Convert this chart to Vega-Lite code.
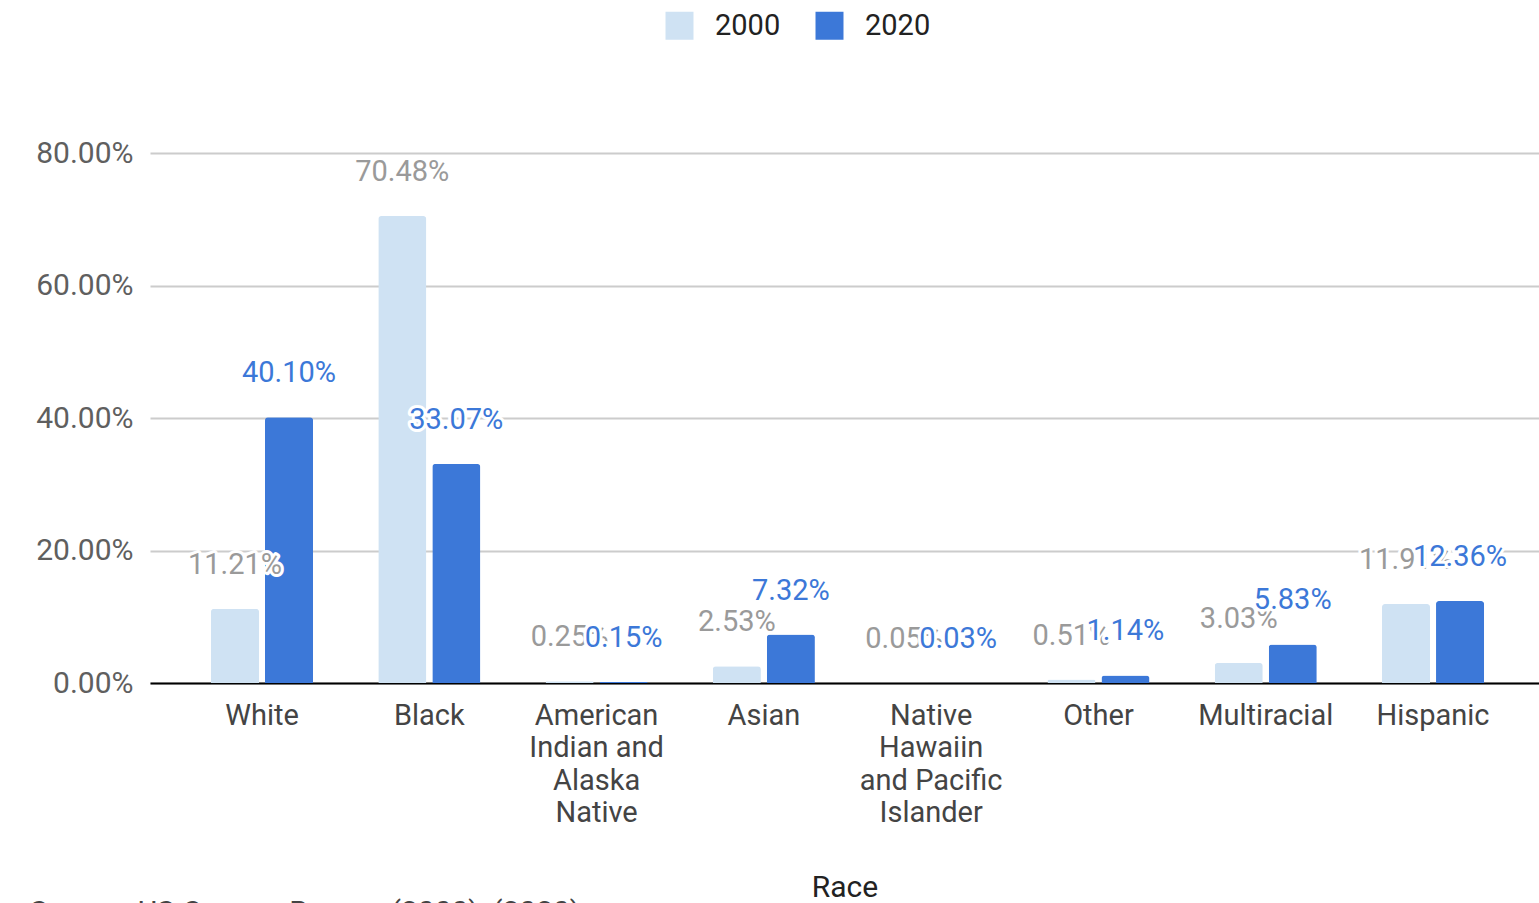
{
  "$schema": "https://vega.github.io/schema/vega-lite/v6.json",
  "width": 1389,
  "height": 530,
  "autosize": {"type": "none"},
  "padding": {"left": 150, "top": 153, "right": 0, "bottom": 220},
  "background": "white",
  "config": {
    "font": "Roboto",
    "view": {"stroke": null}
  },
  "title": {
    "text": "Source: US Census Bureau (2000), (2020)",
    "orient": "bottom",
    "anchor": "start",
    "frame": "group",
    "dx": -120,
    "offset": -4,
    "fontSize": 30,
    "fontWeight": "normal",
    "color": "#444444",
    "font": "Roboto"
  },
  "data": {
    "values": [
      {"race": "White", "year": "2000", "value": 0.1121},
      {"race": "White", "year": "2020", "value": 0.4010},
      {"race": "Black", "year": "2000", "value": 0.7048},
      {"race": "Black", "year": "2020", "value": 0.3307},
      {"race": "American Indian and Alaska Native", "year": "2000", "value": 0.0025},
      {"race": "American Indian and Alaska Native", "year": "2020", "value": 0.0015},
      {"race": "Asian", "year": "2000", "value": 0.0253},
      {"race": "Asian", "year": "2020", "value": 0.0732},
      {"race": "Native Hawaiin and Pacific Islander", "year": "2000", "value": 0.0005},
      {"race": "Native Hawaiin and Pacific Islander", "year": "2020", "value": 0.0003},
      {"race": "Other", "year": "2000", "value": 0.0051},
      {"race": "Other", "year": "2020", "value": 0.0114},
      {"race": "Multiracial", "year": "2000", "value": 0.0303},
      {"race": "Multiracial", "year": "2020", "value": 0.0583},
      {"race": "Hispanic", "year": "2000", "value": 0.1191},
      {"race": "Hispanic", "year": "2020", "value": 0.1236}
    ]
  },
  "encoding": {
    "x": {
      "field": "race",
      "type": "nominal",
      "sort": null,
      "scale": {"paddingInner": 0.39, "paddingOuter": 0.3465, "align": 0.526},
      "axis": {
        "title": "Race",
        "titleFont": "Roboto",
        "titleFontSize": 30,
        "titleFontWeight": "normal",
        "titleColor": "#222222",
        "titleBaseline": "alphabetic",
        "titleY": 213,
        "labelAngle": 0,
        "labelFont": "Roboto",
        "labelFontSize": 29,
        "labelColor": "#444444",
        "labelPadding": 18,
        "labelLineHeight": 32.5,
        "labelExpr": "datum.label == 'American Indian and Alaska Native' ? ['American','Indian and','Alaska','Native'] : datum.label == 'Native Hawaiin and Pacific Islander' ? ['Native','Hawaiin','and Pacific','Islander'] : datum.label",
        "ticks": false,
        "domain": true,
        "domainColor": "#000000",
        "domainWidth": 2,
        "grid": false,
        "zindex": 0
      }
    },
    "xOffset": {
      "field": "year",
      "type": "nominal",
      "scale": {"paddingInner": 0.111, "paddingOuter": 0}
    },
    "y": {
      "field": "value",
      "type": "quantitative",
      "scale": {"domain": [0, 0.8], "nice": false},
      "axis": {
        "title": null,
        "values": [0, 0.2, 0.4, 0.6, 0.8],
        "format": ".2%",
        "labelFont": "Roboto",
        "labelFontSize": 30,
        "labelColor": "#5f5f5f",
        "labelPadding": 17,
        "ticks": false,
        "domain": false,
        "grid": true,
        "gridColor": "#cccccc",
        "gridWidth": 2,
        "zindex": 0
      }
    }
  },
  "layer": [
    {
      "mark": {"type": "bar", "cornerRadiusTopLeft": 3, "cornerRadiusTopRight": 3},
      "encoding": {
        "color": {
          "field": "year",
          "type": "nominal",
          "scale": {"domain": ["2000", "2020"], "range": ["#cfe2f3", "#3c78d8"]},
          "legend": {
            "title": null,
            "orient": "none",
            "direction": "horizontal",
            "legendX": 515,
            "legendY": -142,
            "symbolType": "square",
            "symbolSize": 784,
            "symbolStrokeWidth": 0,
            "labelFont": "Roboto",
            "labelFontSize": 29,
            "labelColor": "#222222",
            "labelOffset": 21,
            "columnPadding": 34
          }
        }
      }
    },
    {
      "transform": [{"filter": "datum.year == '2000'"}],
      "mark": {"type": "text", "baseline": "alphabetic", "dy": -35, "fontSize": 29, "font": "Roboto", "fill": "white", "stroke": "white", "strokeWidth": 6, "strokeJoin": "round"},
      "encoding": {"text": {"field": "value", "type": "quantitative", "format": ".2%"}}
    },
    {
      "transform": [{"filter": "datum.year == '2000'"}],
      "mark": {"type": "text", "baseline": "alphabetic", "dy": -35, "fontSize": 29, "font": "Roboto", "fill": "#9a9a9a"},
      "encoding": {"text": {"field": "value", "type": "quantitative", "format": ".2%"}}
    },
    {
      "transform": [{"filter": "datum.year == '2020'"}],
      "mark": {"type": "text", "baseline": "alphabetic", "dy": -35, "fontSize": 29, "font": "Roboto", "fill": "white", "stroke": "white", "strokeWidth": 6, "strokeJoin": "round"},
      "encoding": {"text": {"field": "value", "type": "quantitative", "format": ".2%"}}
    },
    {
      "transform": [{"filter": "datum.year == '2020'"}],
      "mark": {"type": "text", "baseline": "alphabetic", "dy": -35, "fontSize": 29, "font": "Roboto", "fill": "#3c78d8"},
      "encoding": {"text": {"field": "value", "type": "quantitative", "format": ".2%"}}
    }
  ]
}
